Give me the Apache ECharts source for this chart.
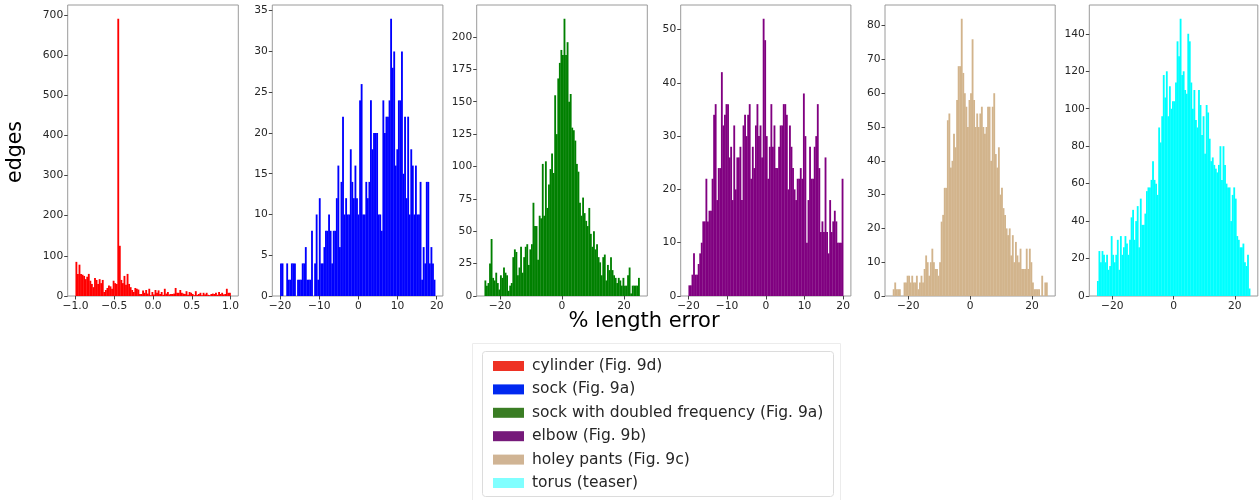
<!DOCTYPE html>
<html><head><meta charset="utf-8">
<script src="https://cdn.jsdelivr.net/npm/echarts@6/dist/echarts.min.js"></script>
<style>html,body{margin:0;padding:0;background:#fff}#c{width:1259px;height:500px}</style>
</head><body><div id="c"></div>
<script>
const seriesNames = ['cylinder (Fig. 9d)', 'sock (Fig. 9a)', 'sock with doubled frequency (Fig. 9a)', 'elbow (Fig. 9b)', 'holey pants (Fig. 9c)', 'torus (teaser)'];
const barColors = ['#ff0000', '#0000ff', '#008000', '#800080', '#d2b48c', '#00ffff'];
const legendColors = ['#ee3224', '#0028f0', '#3a7d24', '#761a7a', '#d0b494', '#80ffff'];

// histogram bin counts (100 equal-width bins over each binRange)
const cylinderCounts = [85,55,78,55,53,50,42,48,55,38, 30,22,45,40,30,42,32,40,10,15, 20,26,24,18,38,32,30,690,125,40, 32,50,28,55,30,22,15,10,20,18, 16,5,5,14,8,15,6,18,2,10, 4,15,8,14,5,10,3,18,6,10, 4,5,5,6,20,8,8,15,8,6, 5,12,3,10,8,5,2,12,3,5, 8,2,8,4,8,3,2,5,6,5, 8,3,10,5,8,4,5,18,8,8];
const sockCounts = [4,4,0,0,4,2,2,4,4,4, 0,2,2,2,4,4,6,2,2,2, 8,0,4,10,2,12,4,4,6,8, 8,10,8,4,8,8,12,16,6,14, 22,10,12,10,10,18,14,12,16,12, 10,24,26,10,10,14,12,14,24,18, 20,20,20,10,10,8,24,20,22,22, 24,34,28,30,16,18,24,24,30,15, 22,12,22,10,18,16,10,16,10,10, 14,2,6,4,14,14,4,6,4,2];
const sockDoubledCounts = [12,8,10,25,44,14,12,18,10,5, 16,14,22,18,16,4,8,10,30,36, 34,16,22,38,18,30,38,40,24,36, 40,72,54,54,28,62,60,102,62,104, 68,86,98,110,95,155,125,168,180,190, 186,214,186,196,150,156,130,128,120,102, 96,72,62,76,64,58,54,68,48,38, 50,36,40,30,26,16,30,32,12,24, 20,30,20,16,14,10,14,12,8,14, 8,8,16,22,2,8,8,8,8,14];
const elbowCounts = [2,2,4,8,4,4,6,8,10,14, 14,22,14,16,16,22,34,36,18,24, 24,42,32,34,36,36,26,28,18,32, 20,26,26,28,18,32,34,30,34,36, 22,28,24,32,36,30,32,26,52,48, 30,22,28,36,28,32,24,24,28,32, 32,36,36,34,20,32,28,24,20,18, 22,22,24,22,38,30,10,18,28,22, 22,28,30,36,24,12,14,12,26,12, 8,18,12,14,16,14,10,10,10,22];
const holeyPantsCounts = [2,4,2,2,2,0,0,4,4,6, 6,4,6,4,4,6,2,4,6,4, 8,12,10,6,10,14,10,8,8,6, 10,22,24,32,32,52,54,38,40,48, 44,58,68,68,82,66,60,56,50,58, 60,76,58,50,54,50,54,56,50,48, 50,56,56,40,56,60,42,38,44,30, 32,26,24,20,18,20,12,18,10,16, 12,10,14,8,8,8,14,8,14,10, 4,2,2,2,2,0,6,0,4,4];
const torusCounts = [8,24,18,24,22,18,22,14,16,32, 22,18,22,30,14,32,22,26,32,28, 22,30,42,46,30,40,48,26,52,38, 38,44,56,58,58,62,72,62,60,54, 90,82,96,118,106,120,96,112,100,104, 104,114,136,128,148,118,120,110,108,140, 136,114,100,110,94,90,110,102,86,96, 76,102,98,84,72,74,70,68,66,70, 80,62,80,70,60,58,58,40,54,58, 52,32,30,26,26,28,18,16,22,4];

const binRanges = [[-1, 1], [-20, 19.6], [-25, 25], [-20, 20], [-25, 25], [-25, 25]];
const xTickValues = [[-1, -0.5, 0, 0.5, 1], [-20, -10, 0, 10, 20], [-20, 0, 20], [-20, -10, 0, 10, 20], [-20, 0, 20], [-20, 0, 20]];
const yTickValues = [
  [0, 100, 200, 300, 400, 500, 600, 700],
  [0, 5, 10, 15, 20, 25, 30, 35],
  [0, 25, 50, 75, 100, 125, 150, 175, 200],
  [0, 10, 20, 30, 40, 50],
  [0, 10, 20, 30, 40, 50, 60, 70, 80],
  [0, 20, 40, 60, 80, 100, 120, 140]
];
const allCounts = [cylinderCounts, sockCounts, sockDoubledCounts, elbowCounts, holeyPantsCounts, torusCounts];

// layout
const gridLefts = [67.7, 272.3, 476.7, 680.7, 885, 1089.3];
const gridWidths = [170.6, 170.6, 170.6, 170.2, 170.2, 168.5];
const FONT = 'DejaVu Sans';

const minus = s => s.replace('-', '\u2212');
const grids = [], xAxes = [], yAxes = [], series = [];
allCounts.forEach((counts, i) => {
  const [lo, hi] = binRanges[i];
  const w = (hi - lo) / counts.length;
  const bins = counts.map((c, k) => [lo + k * w, lo + (k + 1) * w, c]);
  const span = hi - lo;
  const ymax = Math.max(...counts) * 1.05;
  grids.push({left: gridLefts[i], top: 5, width: gridWidths[i], height: 291, show: true, borderColor: '#9a9a9a', borderWidth: 1, backgroundColor: 'transparent'});
  xAxes.push({
    type: 'value', gridIndex: i, min: lo - 0.05 * span, max: hi + 0.05 * span,
    axisLine: {show: false, onZero: false}, splitLine: {show: false},
    axisTick: {show: true, customValues: xTickValues[i], length: 3.5, lineStyle: {color: '#444'}},
    axisLabel: {customValues: xTickValues[i], margin: 4.5, fontSize: 10.7, color: '#262626', fontFamily: FONT,
      formatter: v => minus(i === 0 ? v.toFixed(1) : String(v))}
  });
  yAxes.push({
    type: 'value', gridIndex: i, min: 0, max: ymax,
    axisLine: {show: false, onZero: false}, splitLine: {show: false},
    axisTick: {show: true, customValues: yTickValues[i], length: 3.5, lineStyle: {color: '#444'}},
    axisLabel: {customValues: yTickValues[i], margin: 4.5, fontSize: 10.7, color: '#262626', fontFamily: FONT}
  });
  const color = barColors[i];
  series.push({
    type: 'custom', name: seriesNames[i], xAxisIndex: i, yAxisIndex: i,
    itemStyle: {color: legendColors[i]},
    encode: {x: [0, 1], y: 2},
    data: bins,
    renderItem: (params, api) => {
      const p0 = api.coord([api.value(0), api.value(2)]);
      const p1 = api.coord([api.value(1), 0]);
      return {type: 'rect', shape: {x: p0[0], y: p0[1], width: p1[0] - p0[0] + 0.3, height: p1[1] - p0[1]}, style: {fill: color}};
    }
  });
});

const chart = echarts.init(document.getElementById('c'), null, {renderer: 'canvas'});
chart.setOption({
  animation: false,
  grid: grids, xAxis: xAxes, yAxis: yAxes, series: series,
  legend: {
    orient: 'vertical', left: 488, top: 353, height: 300,
    itemWidth: 31, itemHeight: 10, itemGap: 7.4, icon: 'rect',
    data: seriesNames.map((n, i) => ({name: n, itemStyle: {color: legendColors[i]}})),
    textStyle: {fontFamily: FONT, fontSize: 15.5, color: '#262626', padding: [0, 0, 0, 3]}
  },
  graphic: [
    {type: 'rect', shape: {x: 472.5, y: 343.5, width: 368, height: 170}, style: {fill: 'none', stroke: '#ececec', lineWidth: 1}, silent: true, z: -1},
    {type: 'rect', shape: {x: 482.5, y: 351.5, width: 351, height: 145, r: 3}, style: {fill: 'none', stroke: '#dcdcdc', lineWidth: 1}, silent: true, z: -1},
    {type: 'text', x: 16, y: 152, rotation: Math.PI / 2, style: {text: 'edges', font: '20.5px "DejaVu Sans"', fill: '#000', textAlign: 'center', textVerticalAlign: 'middle'}},
    {type: 'text', x: 644, y: 322, style: {text: '% length error', font: '21px "DejaVu Sans"', fill: '#000', textAlign: 'center', textVerticalAlign: 'middle'}}
  ]
});
</script></body></html>
